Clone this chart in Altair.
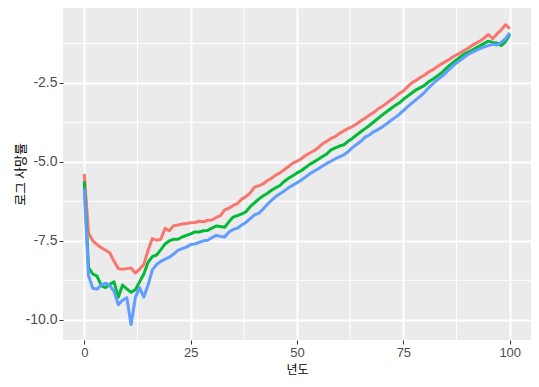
import altair as alt
import pandas as pd

ages = list(range(0, 101))

red = [-5.38, -7.25, -7.50, -7.62, -7.72, -7.80, -7.88, -8.15, -8.38, -8.40,
       -8.38, -8.36, -8.52, -8.40, -8.25, -7.80, -7.43, -7.48, -7.45, -7.10,
       -7.18, -7.02, -7.00, -6.97, -6.95, -6.93, -6.92, -6.88, -6.90, -6.85,
       -6.84, -6.76, -6.70, -6.52, -6.47, -6.38, -6.32, -6.18, -6.10, -5.98,
       -5.80, -5.76, -5.70, -5.60, -5.52, -5.42, -5.35, -5.25, -5.15, -5.04,
       -4.98, -4.90, -4.80, -4.72, -4.65, -4.55, -4.43, -4.35, -4.26, -4.20,
       -4.10, -4.02, -3.95, -3.88, -3.80, -3.70, -3.62, -3.52, -3.44, -3.33,
       -3.25, -3.15, -3.05, -2.95, -2.84, -2.76, -2.62, -2.50, -2.42, -2.33,
       -2.25, -2.15, -2.08, -1.98, -1.90, -1.82, -1.74, -1.65, -1.58, -1.50,
       -1.42, -1.33, -1.25, -1.18, -1.08, -0.97, -1.10, -0.95, -0.82, -0.66,
       -0.78]

green = [-5.62, -8.35, -8.55, -8.62, -8.92, -8.98, -8.88, -8.80, -9.29, -8.90,
         -9.02, -9.13, -9.05, -8.80, -8.55, -8.18, -8.00, -7.95, -7.78, -7.60,
         -7.50, -7.45, -7.45, -7.38, -7.33, -7.28, -7.22, -7.22, -7.18, -7.17,
         -7.10, -7.03, -7.05, -7.07, -6.90, -6.75, -6.70, -6.65, -6.58, -6.42,
         -6.30, -6.18, -6.08, -6.00, -5.90, -5.82, -5.75, -5.62, -5.52, -5.44,
         -5.35, -5.28, -5.18, -5.08, -5.00, -4.92, -4.83, -4.75, -4.62, -4.56,
         -4.50, -4.46, -4.35, -4.26, -4.15, -4.05, -3.95, -3.85, -3.74, -3.63,
         -3.52, -3.42, -3.32, -3.22, -3.14, -3.02, -2.92, -2.82, -2.72, -2.65,
         -2.58, -2.46, -2.38, -2.28, -2.18, -2.05, -1.93, -1.82, -1.72, -1.62,
         -1.54, -1.48, -1.40, -1.33, -1.25, -1.18, -1.22, -1.24, -1.32, -1.20,
         -0.97]

blue = [-5.85, -8.60, -9.00, -9.03, -8.90, -8.84, -8.92, -9.10, -9.52, -9.38,
        -9.30, -10.15, -9.30, -8.98, -9.28, -8.90, -8.42, -8.25, -8.15, -8.08,
        -8.02, -7.92, -7.80, -7.75, -7.70, -7.62, -7.60, -7.55, -7.50, -7.48,
        -7.40, -7.33, -7.36, -7.38, -7.22, -7.14, -7.10, -7.00, -6.92, -6.80,
        -6.68, -6.63, -6.50, -6.35, -6.22, -6.10, -6.01, -5.92, -5.82, -5.74,
        -5.66, -5.58, -5.48, -5.38, -5.30, -5.22, -5.13, -5.05, -4.98, -4.90,
        -4.84, -4.78, -4.68, -4.55, -4.45, -4.35, -4.22, -4.15, -4.05, -3.98,
        -3.90, -3.80, -3.70, -3.60, -3.50, -3.38, -3.25, -3.14, -3.03, -2.92,
        -2.80, -2.65, -2.52, -2.40, -2.30, -2.18, -2.05, -1.92, -1.82, -1.72,
        -1.62, -1.54, -1.48, -1.42, -1.36, -1.32, -1.28, -1.30, -1.22, -1.10,
        -0.92]

series_names = ["A", "B", "C"]
series_colors = ["#F8766D", "#00BA38", "#619CFF"]

x_ticks = [0, 25, 50, 75, 100]
y_ticks = [-10.0, -7.5, -5.0, -2.5]
x_minor = [12.5, 37.5, 62.5, 87.5]
y_minor = [-8.75, -6.25, -3.75, -1.25]

rows = []
for name, vals in zip(series_names, [red, green, blue]):
    for a, v in zip(ages, vals):
        rows.append({"age": a, "value": v, "series": name})
df = pd.DataFrame(rows)

W, H = 468, 332

xscale = alt.Scale(domain=[-5, 105], nice=False, zero=False)
yscale = alt.Scale(domain=[-10.64, -0.13], nice=False, zero=False)

label_font = "Liberation Sans"
title_font = "Noto Sans CJK KR"

minor_x = alt.Chart(pd.DataFrame({"x": x_minor})).mark_rule(
    color="white", strokeWidth=1
).encode(x=alt.X("x:Q", scale=xscale))

minor_y = alt.Chart(pd.DataFrame({"y": y_minor})).mark_rule(
    color="white", strokeWidth=1
).encode(y=alt.Y("y:Q", scale=yscale))

lines = alt.Chart(df).mark_line(strokeWidth=3, strokeCap="butt", strokeJoin="round").encode(
    x=alt.X("age:Q", scale=xscale,
            axis=alt.Axis(values=x_ticks, title="년도", grid=True, gridColor="white",
                          gridWidth=2, tickColor="#333333", tickSize=4, tickWidth=1,
                          domain=False, labelColor="#4D4D4D", labelFontSize=13,
                          labelFont=label_font, labelPadding=2, titleFont=title_font,
                          titleFontSize=12, titleFontWeight="normal", titleColor="black",
                          titleBaseline="top", titleY=24)),
    y=alt.Y("value:Q", scale=yscale,
            axis=alt.Axis(values=y_ticks, title="로그 사망률", grid=True, gridColor="white",
                          gridWidth=2, tickColor="#333333", tickSize=4, tickWidth=1,
                          domain=False, labelColor="#4D4D4D", labelFontSize=14,
                          labelFont=label_font, labelPadding=2,
                          labelExpr="replace(format(datum.value, '.1f'), '\u2212', '-')",
                          titleFont=title_font, titleFontSize=13,
                          titleFontWeight="normal", titleColor="black",
                          titleX=-36, titleY=H / 2)),
    color=alt.Color("series:N", scale=alt.Scale(domain=series_names, range=series_colors),
                    legend=None),
)

chart = alt.layer(minor_x, minor_y, lines).properties(
    width=W, height=H,
    autosize=alt.AutoSizeParams(type="none"),
    padding={"left": 55, "top": 0, "right": 0, "bottom": 39},
).configure_view(fill="#EBEBEB", stroke=None)

chart.save("out.html", embed_options={"renderer": "svg", "actions": False})
